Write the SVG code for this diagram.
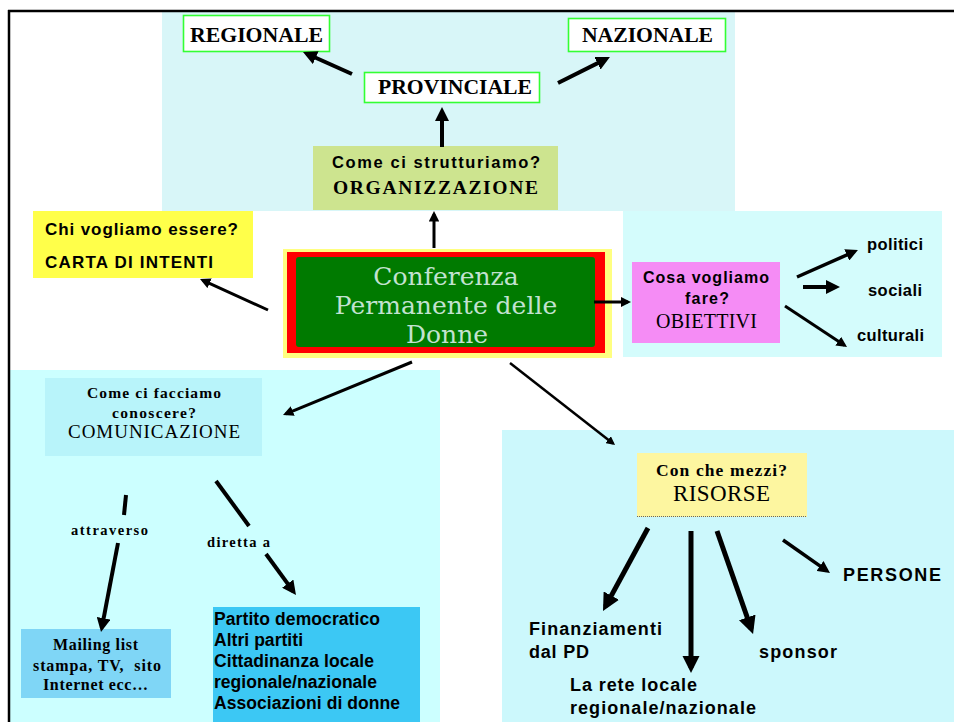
<svg xmlns="http://www.w3.org/2000/svg" width="954" height="722" viewBox="0 0 954 722">
<style>
.sans{font-family:"Liberation Sans",Arial,sans-serif;font-weight:bold;fill:#000}
.serif{font-family:"Liberation Serif","Times New Roman",serif;fill:#000}
.b{font-weight:bold}
.lvl{fill:#fff;stroke:#33ff33;stroke-width:1.6}
.arr{stroke:#000;fill:none;marker-end:url(#ah)}
.ln{stroke:#000;fill:none}
.mid{text-anchor:middle}
</style>
<defs>
<marker id="ah" viewBox="0 0 10 10" refX="7" refY="5" markerUnits="strokeWidth" markerWidth="3.5" markerHeight="3.5" orient="auto">
<path d="M0,0 L10,5 L0,10 z" fill="#000"/>
</marker>
</defs>
<rect width="954" height="722" fill="#fff"/>
<g id="panels">
<rect x="162" y="12" width="573" height="199" fill="#d8f6f8"/>
<rect x="623" y="211" width="319" height="146" fill="#d4fcfc"/>
<rect x="10" y="370" width="430" height="352" fill="#ccffff"/>
<rect x="502" y="430" width="452" height="292" fill="#ccf8fc"/>
</g>
<g id="frame">
<line x1="8" y1="11" x2="954" y2="11" stroke="#000" stroke-width="2.5"/>
<line x1="9" y1="10" x2="9" y2="722" stroke="#000" stroke-width="2.5"/>
</g>
<g id="regionale">
<rect class="lvl" x="183.5" y="15.5" width="146" height="36"/>
<text class="serif b" x="256.5" y="42" font-size="22" text-anchor="middle" textLength="133" lengthAdjust="spacingAndGlyphs">REGIONALE</text>
</g>
<g id="nazionale">
<rect class="lvl" x="568.5" y="18.5" width="157" height="33"/>
<text class="serif b" x="647.5" y="42" font-size="22" text-anchor="middle" textLength="131" lengthAdjust="spacingAndGlyphs">NAZIONALE</text>
</g>
<g id="provinciale">
<rect class="lvl" x="364.5" y="72.5" width="175" height="30"/>
<text class="serif b" x="455" y="94" font-size="22" text-anchor="middle" textLength="154" lengthAdjust="spacingAndGlyphs">PROVINCIALE</text>
</g>
<g id="organizzazione">
<rect x="313" y="146" width="245" height="64" fill="#cde48f"/>
<text class="sans mid" x="436" y="168" font-size="16.5" textLength="208" lengthAdjust="spacing">Come ci strutturiamo?</text>
<text class="serif b mid" x="435.5" y="194" font-size="19.5" textLength="205" lengthAdjust="spacing">ORGANIZZAZIONE</text>
</g>
<g id="carta">
<rect x="33" y="211" width="220" height="67" fill="#ffff4a"/>
<text class="sans" x="45" y="235" font-size="17" textLength="193" lengthAdjust="spacing">Chi vogliamo essere?</text>
<text class="sans" x="45" y="268" font-size="17" textLength="168" lengthAdjust="spacing">CARTA DI INTENTI</text>
</g>
<g id="conferenza">
<rect x="283" y="249" width="329" height="109" fill="#ffff80"/>
<rect x="287" y="252" width="318" height="101" fill="#ff0000"/>
<rect x="296" y="257" width="299" height="90" rx="3" fill="#007a00"/>
<g font-family="'DejaVu Serif','Liberation Serif',serif" font-size="25" fill="#c2e2d0" text-anchor="middle">
<text x="446" y="285">Conferenza</text>
<text x="446" y="314">Permanente delle</text>
<text x="447" y="343">Donne</text>
</g>
</g>
<g id="obiettivi">
<rect x="632" y="262" width="148" height="81" fill="#f58cf5"/>
<text class="sans mid" x="706" y="283" font-size="16" textLength="126" lengthAdjust="spacing">Cosa vogliamo</text>
<text class="sans mid" x="707" y="304" font-size="16" textLength="44" lengthAdjust="spacing">fare?</text>
<text class="serif mid" x="706.5" y="328" font-size="20" textLength="101" lengthAdjust="spacing">OBIETTIVI</text>
</g>
<g id="politici"><text class="sans" x="867" y="250" font-size="16.5" textLength="56" lengthAdjust="spacing">politici</text></g>
<g id="sociali"><text class="sans" x="868" y="296" font-size="16.5" textLength="54" lengthAdjust="spacing">sociali</text></g>
<g id="culturali"><text class="sans" x="857" y="341" font-size="16.5" textLength="67" lengthAdjust="spacing">culturali</text></g>
<g id="comunicazione">
<rect x="45" y="378" width="217" height="78" fill="#b8f4fa"/>
<text class="serif b mid" x="154" y="398" font-size="15.5" textLength="134" lengthAdjust="spacing">Come ci facciamo</text>
<text class="serif b mid" x="154" y="418" font-size="15.5" textLength="84" lengthAdjust="spacing">conoscere?</text>
<text class="serif mid" x="154" y="438" font-size="19" textLength="172" lengthAdjust="spacing">COMUNICAZIONE</text>
</g>
<g id="mailing">
<rect x="21" y="629" width="150" height="69" fill="#7fd6f6"/>
<text class="serif b mid" x="95.5" y="650" font-size="16" textLength="85" lengthAdjust="spacing">Mailing list</text>
<text class="serif b mid" x="97" y="671" font-size="16" textLength="128" lengthAdjust="spacing" style="white-space:pre">stampa, TV,  sito</text>
<text class="serif b mid" x="95.5" y="690" font-size="16" textLength="105" lengthAdjust="spacing">Internet ecc…</text>
</g>
<g id="destinatari">
<rect x="213" y="607" width="207" height="115" fill="#3cc8f4"/>
<text class="sans" x="214" y="625" font-size="17.5" textLength="166" lengthAdjust="spacing">Partito democratico</text>
<text class="sans" x="214" y="646" font-size="17.5" textLength="89" lengthAdjust="spacing">Altri partiti</text>
<text class="sans" x="214" y="667" font-size="17.5" textLength="160" lengthAdjust="spacing">Cittadinanza locale</text>
<text class="sans" x="214" y="688" font-size="17.5" textLength="163" lengthAdjust="spacing">regionale/nazionale</text>
<text class="sans" x="214" y="709" font-size="17.5" textLength="186" lengthAdjust="spacing">Associazioni di donne</text>
</g>
<g id="risorse">
<rect x="637" y="453" width="170" height="64" fill="#fdf6a0"/>
<line x1="637" y1="516.5" x2="807" y2="516.5" stroke="#666" stroke-width="1" stroke-dasharray="1,1"/>
<text class="serif b mid" x="721.5" y="476" font-size="17.5" textLength="131" lengthAdjust="spacing">Con che mezzi?</text>
<text class="serif mid" x="721.5" y="501" font-size="23" textLength="97" lengthAdjust="spacing">RISORSE</text>
</g>
<g id="finanziamenti">
<text class="sans" x="529" y="635" font-size="18" textLength="133" lengthAdjust="spacing">Finanziamenti</text>
<text class="sans" x="529" y="658" font-size="18" textLength="60" lengthAdjust="spacing">dal PD</text>
</g>
<g id="rete">
<text class="sans" x="570" y="691" font-size="18" textLength="127" lengthAdjust="spacing">La rete locale</text>
<text class="sans" x="570" y="714" font-size="18" textLength="186" lengthAdjust="spacing">regionale/nazionale</text>
</g>
<g id="sponsor"><text class="sans" x="759" y="658" font-size="18" textLength="78" lengthAdjust="spacing">sponsor</text></g>
<g id="persone"><text class="sans" x="843" y="581" font-size="18" textLength="98" lengthAdjust="spacing">PERSONE</text></g>
<g id="labels">
<text class="serif b" x="71" y="535" font-size="14.5" textLength="77" lengthAdjust="spacing">attraverso</text>
<text class="serif b" x="207" y="547" font-size="14.5" textLength="63" lengthAdjust="spacing">diretta a</text>
</g>
<g id="connectors">
<line class="arr" x1="352" y1="74" x2="306.8" y2="53.7" stroke-width="4"/>
<line class="arr" x1="558" y1="83" x2="606.2" y2="58.9" stroke-width="4"/>
<line class="arr" x1="442" y1="147" x2="442" y2="111.2" stroke-width="4"/>
<line class="arr" x1="434" y1="248" x2="434" y2="214.2" stroke-width="3"/>
<line class="arr" x1="268" y1="310" x2="202.9" y2="280.3" stroke-width="3"/>
<line class="arr" x1="594" y1="302" x2="627.9" y2="302" stroke-width="3"/>
<line class="arr" x1="797" y1="277" x2="854.6" y2="251.5" stroke-width="3.5"/>
<line class="arr" x1="803" y1="287" x2="835.8" y2="287" stroke-width="4"/>
<line class="arr" x1="785" y1="306" x2="844.4" y2="345.3" stroke-width="3"/>
<line class="arr" x1="412" y1="362" x2="285.9" y2="413.8" stroke-width="3"/>
<line class="arr" x1="510" y1="363" x2="613" y2="443.4" stroke-width="2.5"/>
<line class="ln" x1="126" y1="495" x2="124" y2="515" stroke-width="4"/>
<line class="arr" x1="118" y1="543" x2="101.8" y2="627.9" stroke-width="4"/>
<line class="ln" x1="216" y1="481" x2="249" y2="526" stroke-width="4"/>
<line class="arr" x1="266" y1="554" x2="293.5" y2="591.6" stroke-width="4"/>
<line class="arr" x1="648" y1="528" x2="605.5" y2="606.4" stroke-width="5"/>
<line class="arr" x1="691" y1="531" x2="691" y2="667.8" stroke-width="5"/>
<line class="arr" x1="717" y1="531" x2="751.3" y2="629" stroke-width="5"/>
<line class="arr" x1="783" y1="540" x2="827" y2="570.9" stroke-width="3.5"/>
</g>
</svg>
